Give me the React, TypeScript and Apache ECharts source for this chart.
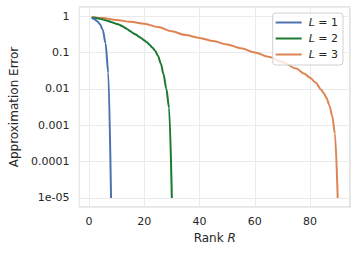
import React, { useEffect, useRef } from "react";
import * as echarts from "echarts";

const rankL1 = [1, 2, 3, 4, 5, 6, 7, 8];
const errL1 = [0.9, 0.82, 0.72, 0.6, 0.42, 0.18, 0.028, 1e-5];

const rankL2 = [1, 2, 3, 4, 5, 6, 7, 8, 9, 10, 11, 12, 13, 14, 15, 16, 17, 18, 19, 20, 21, 22, 23, 24, 25, 26, 27, 28, 29, 30];
const errL2 = [0.92, 0.9, 0.87, 0.84, 0.81, 0.77, 0.73, 0.69, 0.65, 0.61, 0.58, 0.53, 0.48, 0.43, 0.38, 0.34, 0.31, 0.275, 0.245, 0.215, 0.19, 0.16, 0.135, 0.11, 0.08, 0.05, 0.025, 0.01, 0.003, 1e-5];

const rankL3 = [1, 5, 10, 15, 20, 25, 30, 35, 40, 45, 50, 55, 60, 65, 70, 75, 78, 80, 82, 84, 85, 86, 87, 88, 89, 90];
const errL3 = [0.95, 0.88, 0.78, 0.7, 0.62, 0.5, 0.38, 0.3, 0.25, 0.205, 0.165, 0.13, 0.1, 0.076, 0.055, 0.036, 0.026, 0.02, 0.015, 0.0095, 0.0075, 0.0055, 0.0035, 0.0018, 0.0006, 1e-5];

const seriesNames = ["L1", "L2", "L3"];
const legendLabels = ["1", "2", "3"];
const colors = ["#4c72b0", "#1a7a32", "#dd8452"];

const yTickLabels: Record<string, string> = {
  "0": "1",
  "-1": "0.1",
  "-2": "0.01",
  "-3": "0.001",
  "-4": "0.0001",
  "-5": "1e-05",
};

const FONT = "DejaVu Sans";
const TEXT = "#262626";

export default function App() {
  const ref = useRef<HTMLDivElement>(null);
  useEffect(() => {
    if (!ref.current) return;
    const chart = echarts.init(ref.current, undefined, { renderer: "svg" });
    const datasets = [
      rankL1.map((r, i) => [r, errL1[i]]),
      rankL2.map((r, i) => [r, errL2[i]]),
      rankL3.map((r, i) => [r, errL3[i]]),
    ];
    chart.setOption({
      animation: false,
      backgroundColor: "#ffffff",
      textStyle: { fontFamily: FONT },
      grid: { left: 76, right: 7, top: 7, bottom: 47, containLabel: false, show: true, borderColor: "#cccccc", borderWidth: 1.2 },
      legend: {
        orient: "vertical",
        right: 14,
        top: 13,
        data: seriesNames,
        icon: "rect",
        itemWidth: 26,
        itemHeight: 2,
        itemGap: 5,
        padding: [4, 5, 5, 3],
        backgroundColor: "rgba(255,255,255,0.8)",
        borderColor: "#d0d0d0",
        borderWidth: 1,
        borderRadius: 3,
        formatter: (name: string) => `{i|L} = ${legendLabels[seriesNames.indexOf(name)]}`,
        textStyle: {
          fontFamily: FONT,
          fontSize: 11,
          color: TEXT,
          padding: [0, 0, 0, 2],
          rich: { i: { fontStyle: "italic", fontFamily: FONT, fontSize: 11, color: TEXT } },
        },
      },
      xAxis: {
        type: "value",
        min: -3.45,
        max: 94.45,
        splitNumber: 5,
        name: "Rank {i|R}",
        nameLocation: "middle",
        nameGap: 25,
        nameTextStyle: { fontFamily: FONT, fontSize: 12, color: TEXT, rich: { i: { fontStyle: "italic", fontFamily: FONT, fontSize: 12, color: TEXT } } },
        axisLine: { show: false },
        axisTick: { show: false },
        axisLabel: { fontFamily: FONT, fontSize: 11, color: TEXT, margin: 9, showMinLabel: false, showMaxLabel: false },
        splitLine: { show: true, lineStyle: { color: "#ebebeb", width: 1 } },
      },
      yAxis: {
        type: "log",
        logBase: 10,
        min: Math.pow(10, -5.25),
        max: Math.pow(10, 0.25),
        name: "Approximation Error",
        nameLocation: "middle",
        nameGap: 55,
        nameTextStyle: { fontFamily: FONT, fontSize: 12, color: TEXT },
        axisLine: { show: false },
        axisTick: { show: false },
        axisLabel: {
          fontFamily: FONT,
          fontSize: 11,
          color: TEXT,
          margin: 10,
          showMinLabel: false,
          showMaxLabel: false,
          formatter: (v: number) => {
            const e = Math.round(Math.log10(v));
            if (Math.abs(Math.log10(v) - e) > 0.01) return "";
            return yTickLabels[String(e)] ?? "";
          },
        },
        splitLine: { show: true, lineStyle: { color: "#ebebeb", width: 1 } },
      },
      series: seriesNames.map((n, i) => ({
        name: n,
        type: "line",
        data: datasets[i],
        showSymbol: false,
        symbol: "none",
        smooth: 0.3,
        smoothMonotone: "x",
        color: colors[i],
        lineStyle: { color: colors[i], width: 2 },
        z: 3 - i,
      })),
    });
    return () => chart.dispose();
  }, []);
  return <div ref={ref} style={{ position: "absolute", left: 0, top: 0, width: 357, height: 254 }} />;
}
